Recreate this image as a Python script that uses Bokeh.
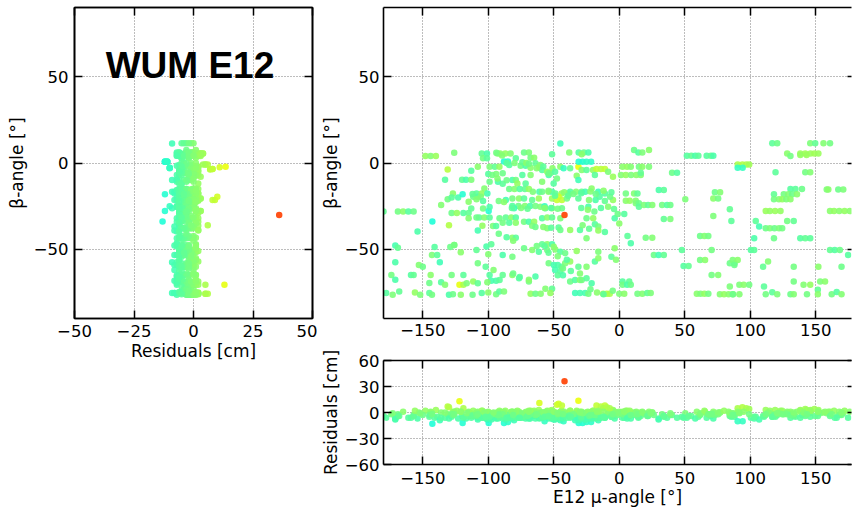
import numpy as np
from bokeh.plotting import figure
from bokeh.models import (ColumnDataSource, Range1d, FixedTicker, LinearAxis,
                          Label, LinearColorMapper, CustomLabelingPolicy)
from bokeh.layouts import row, column
from bokeh.transform import transform
from bokeh.embed import file_html
from bokeh.resources import INLINE

# ---------------- data: (mu-angle [deg], beta-angle [deg], residual [cm]) ----------------
sector_a = [
    (-180, -28, -4), (-169, -28, -2), (-165, -28, 1), (-161, -28, -6), (-157, -28, -3),
    (-148, 4, 2), (-144, 4, 0), (-140, 4, 3), (-126, 6, -1), (-131, -3.7, 7),
    (-133, -9.7, -6), (-120, -9.7, -4), (-117, -9.7, -7), (-113, -9.7, -1),
    (-127, -17.6, 1), (-131, -21, -2), (-128, -19.9, -5), (-123, -19.9, -7),
    (-119.6, -18.1, -12), (-136, -24.3, 0),
    (-128, -29, -3), (-124, -29, 2), (-119, -29, -6), (-115, -29, -4),
    (-142.7, -33.9, -13), (-130, -36, 6), (-154, -39.7, -7),
    (-171, -47.8, -8), (-169, -49, -4), (-141, -48.6, -6), (-129, -48.6, -3), (-126, -47.5, 1),
    (-143, -53.2, -1), (-139, -53.2, -5), (-137, -57.4, -9), (-171, -57.4, -7),
    (-153, -59, 0), (-150, -60, -3),
    (-174, -64.8, -2), (-159, -64.8, -6), (-157, -64.8, -4),
    (-144, -64.8, 1), (-128, -64.8, -2), (-119, -64.8, -5),
    (-171, -67.6, -7), (-145, -69.5, -3), (-136, -69, -6), (-133, -70.5, 0),
    (-122, -70.5, 13), (-119, -70.5, 5),
    (-178, -75.3, -6), (-173, -76.3, -1), (-168, -74.4, -4),
    (-156, -75, 2), (-152, -76.3, -1), (-145, -75.3, -5), (-143, -76.3, -2),
    (-130, -76.3, -7), (-127, -76, -3), (-121, -76.3, 1),
]

sector_b = [
    (-113, -4.5, -6), (-108, -2.2, 1),
    (-105, 5.5, -4), (-101, 5.5, -7), (-104, 2.7, -2), (-101, 2.7, -5), (-93, 5.5, 0),
    (-99, -2.2, -1), (-95, -2.2, -4), (-91.5, -2.2, 2),
    (-100, -6.4, -6), (-94, -6.4, -1), (-99, -10.8, -3), (-92.6, -10.8, -7),
    (-103, -14.7, 0), (-109, -17.6, -5), (-105, -17.6, 2),
    (-111.5, -19.5, -3), (-108, -19.5, -6), (-105.8, -19.5, -1), (-100.7, -17.6, -8),
    (-115, -22.4, 1), (-113, -26.4, -4), (-104, -26.4, -2), (-99.7, -27.8, -12), (-99, -25.5, -7),
    (-115, -32, 0), (-107, -31.6, -5), (-91.4, -32, -3),
    (-104.5, -36.3, 2), (-96.4, -36.5, -1), (-94, -36.5, -6), (-108, -39.1, -8),
    (-126, -47.4, -2), (-121, -51.7, 1), (-109, -50.3, -4), (-101.4, -48.4, -7),
    (-97.7, -47, -5), (-100, -52.8, 0), (-99, -64.8, -6),
    (-97.7, -68.2, -8), (-94, -68.2, -7), (-91.4, -67.7, -5),
    (-116.5, -69.6, -1), (-111.5, -68.6, 2), (-108, -69.6, -4), (-100.7, -69, 0),
    (-112, -76.3, -3), (-105, -75.3, -6), (-100, -75, 1), (-94, -75.9, -2),
]

sector_c = [
    (-91, 5.5, 1), (-87, 5.5, 2), (-83, 5.5, 0), (-72.7, 6.1, -3), (-69, 6.1, -1),
    (-79, 2.7, -5), (-67.7, 3, -2), (-65, 3, 1), (-88, 0.8, -12), (-85, 0.8, -11),
    (-84, -1.2, -6), (-75.3, -1.6, -2), (-71.5, -1.6, -7), (-67.7, -2.7, 1), (-64, -0.2, -4),
    (-61, -2.5, 11), (-89, -6, -3), (-74, -7, -6), (-67.7, -7, 0),
    (-81.6, -9.9, -7), (-79, -9.9, -2), (-77.8, -11.8, 2), (-71.5, -11.8, -5),
    (-84, -15.1, -3), (-80, -15.1, 0), (-76, -15.1, -6), (-72, -15.1, -4), (-69, -15.1, 2),
    (-66, -16.6, -1), (-61, -16.6, -7),
    (-86.6, -21.4, -8), (-81.6, -20.5, -2), (-76.5, -20.5, 1), (-72.7, -20.5, -5),
    (-66.5, -21.4, -4), (-61.4, -20.5, 3),
    (-81.6, -24.9, -6), (-77, -24.9, -3), (-72, -24.9, 0), (-68, -24.9, -7), (-64, -24.9, -2),
    (-80.3, -26.2, -9),
    (-86.6, -31.6, -4), (-82.5, -31.6, 1), (-79, -31.6, -6),
    (-72.7, -34, -2), (-69, -34, -7), (-65, -34, 2), (-66.5, -36.3, -1),
    (-81.6, -43.2, 1), (-79, -43.2, -5),
    (-72.7, -49.4, -3), (-66.5, -50.3, 0), (-61.4, -51.3, -6), (-89, -53.2, -7), (-81.6, -54.2, -2),
    (-89, -64.8, -4), (-81.6, -64.8, 1), (-76.5, -66.7, -6), (-69, -68.6, -2), (-64, -65.7, -7),
    (-91.6, -74.4, -5), (-88, -74.4, -1), (-67.7, -75.7, 2), (-64, -75.7, -3), (-60, -75.7, 0),
]

sector_d = [
    (-45, 11.3, -9),
    (-51.3, 5, -5), (-38.2, 6.1, 0), (-31, 6.1, -6), (-27, 6.1, -3), (-23.6, 6.1, -7), (-28.7, 5, 1),
    (-60.2, -1.2, -1), (-58.9, -4.1, -6), (-55, -5, 2), (-52.6, -6, -3),
    (-45, -2.2, 1), (-42.5, -3.1, -10), (-37.5, -3.1, -4), (-31.2, -2.2, 13.5),
    (-31, 0.7, -12), (-28, 0.7, -12), (-25, 0.7, -11), (-21.5, 0.7, -11),
    (-28.7, -4.1, 0), (-25, -4.1, -5), (-20, -4.1, 2),
    (-17.4, -3.5, 8), (-14, -3.5, 7), (-11, -3.5, 8),
    (-53.9, -7, -7), (-47.6, -8.9, -2), (-32.5, -7.4, 1), (-31.2, -9.9, -9),
    (-18.6, -7, -5), (-8.5, -5.1, -1), (-4.8, -8, 3),
    (-58.9, -10.8, 0), (-50.1, -11.8, -6),
    (-58.9, -16.6, -3), (-54, -16.6, 1), (-51.3, -16.6, -7),
    (-48.8, -17.6, -4), (-44, -17.6, 2), (-38.8, -17.6, -1),
    (-37.5, -16.6, -6), (-33, -16.6, 0), (-28.7, -16.6, -3), (-26, -16.6, -8),
    (-21.1, -14.7, 1), (-16, -16.6, -9), (-11, -17.6, -6),
    (-51.3, -20.5, 3), (-47.6, -21.4, 9), (-46.3, -19.5, 10), (-43.8, -21.4, 8), (-40, -20.5, -2),
    (-31.2, -20.5, -5), (-23.1, -21.4, 0), (-18.1, -21.4, -7), (-11, -22, -4),
    (-4.8, -21.4, 2), (-15, -19.5, -6), (-7, -19.5, -3),
    (-60.2, -25.3, -1), (-57, -25, -10), (-56.4, -26.2, -5), (-51.3, -26.2, 1),
    (-43.8, -26.2, -3), (-23.6, -25.3, -7), (-8.5, -25.3, 0), (-4, -26.6, -4),
    (-58.9, -32, -6), (-55, -31.6, 1), (-51.3, -31.6, -4), (-45, -32, -1), (-41.8, -30.1, 36),
    (-25, -32, -3), (-19.9, -32, 2), (-18.6, -35.5, -6), (-16, -36.8, -2), (-3.5, -32, -7),
    (-55, -37.8, 0), (-46.3, -37.4, -5), (-45, -38.8, -3), (-37.5, -38.8, 2),
    (-30, -38.8, -6), (-25, -43.6, -1),
    (-58.9, -47, -4), (-55, -47, 1), (-51.3, -47, -7),
    (-55, -50.3, -2), (-48.8, -50, 0), (-45, -51.3, -6), (-41.3, -52.2, -3),
    (-32.5, -50.9, 2), (-16, -51.3, -1), (-6, -54.2, -5), (-3.5, -49.4, 1),
    (-53.9, -58, -2), (-50, -59, -8), (-47, -59, -7), (-44, -60, -6), (-49, -62, -8),
    (-45, -62.5, -6), (-47, -65, -5), (-43, -65, -7),
    (-41.3, -58, -1), (-37.5, -57, 2), (-31.2, -60, -4), (-25, -60, 0), (-18.6, -57, -6), (-16, -55.1, 1),
    (-37.5, -68.6, -3), (-33.7, -67.7, -6), (-30, -67.7, 1), (-28.7, -67.7, -2),
    (-25, -66.7, -5), (-21.1, -69.6, -7),
    (-56.4, -72.8, 0), (-51.3, -72.8, -4), (-52.6, -75.3, 2),
    (-33.7, -75.3, -9), (-30, -75.3, -8), (-26, -75.3, -8), (-23.6, -75.7, -2),
    (-12.3, -75.7, 5), (-9.5, -75.7, 6), (-7.3, -75.7, 5),
]

sector_e = [
    (11.3, 7.5, -3), (14.6, 6.1, -6), (17.6, 6.1, -1), (22.7, 7.5, 1),
    (51.6, 4.2, -6), (55, 4.2, -4), (58, 4.2, -7), (60.4, 4.2, -5),
    (66.7, 4.2, -6), (70, 4.2, -4), (71.8, 4.2, -7),
    (2.5, -2.2, 1), (6, -2.2, 2), (8.8, -2.2, 0), (15, -2.2, -2), (17.6, -2.2, 1), (22.7, -2.2, -1),
    (1.3, -7, 0), (5, -7, 2), (9, -7, -1), (13, -7, 1), (16.4, -7, 0),
    (16.4, -5.6, -4), (40.3, -5.6, -3), (44.1, -5.6, -6),
    (5, -17.6, -2), (11.3, -17.6, 0), (13.9, -17.6, -4), (30.2, -15.6, -7), (34, -15.6, -5),
    (5, -21.8, 1), (8, -21.8, 2), (12.6, -21.8, 0), (12.6, -23.3, -1), (15, -23.3, -3), (15, -25.3, -5),
    (18.9, -24.3, -1), (22, -24.3, -4), (25.2, -24.3, 0), (32.7, -24.3, -2),
    (36.5, -24.3, -6), (39, -24.3, -3),
    (50.4, -21, -1), (73, -17, -3), (77, -17, 0), (71.8, -20.5, 1), (75.5, -20.5, -2),
    (84.4, -26.8, -4), (71.8, -30.7, -1), (85.6, -33.6, -5),
    (-1.2, -29.5, -3), (3.8, -29.5, -6), (34, -32.4, -4), (39, -32.4, -1), (0, -35, 1),
    (6.3, -42.2, -5), (20.2, -43.2, -2), (25.2, -43.2, 0), (8.8, -46.5, -7),
    (61.7, -42.2, -3), (65, -42.2, 0), (68, -42.2, -2),
    (47.8, -50.3, -5), (70.5, -50.3, -2), (26.4, -53.2, -3), (30, -53.2, -8), (34, -53.2, -4),
    (-2.5, -56, 0),
    (49.1, -59.6, -6), (52.9, -59.6, -4), (61.7, -56.1, -2), (65.5, -56.1, 1),
    (84.4, -58, -3), (88, -58, -5), (70.5, -64.8, -2), (75.5, -64.8, 0),
    (2.5, -68.6, -6), (7.6, -68.6, -4), (2.5, -70.5, -2), (6, -70.5, -7), (8.8, -70.5, -3),
    (84.4, -71.5, -1),
    (0, -75.7, -1), (3.8, -75.7, 1), (13.9, -75.7, -2), (17.6, -75.7, 0),
    (21.4, -75.3, -4), (24, -75.3, -1),
    (59.2, -75.7, 1), (62, -75.7, -1), (65, -75.7, 2), (68, -75.7, -2),
    (76.8, -76, 0), (80, -76, 2), (83.5, -76, 1), (86.9, -76, -1),
]

sector_f = [
    (116.8, 11.5, -5), (120.6, 11.5, -3), (145.8, 11.5, -1), (149.6, 11.5, -4),
    (155.9, 11.5, 0), (160.9, 11.5, -2),
    (128.2, 5.5, 1), (130.7, 4, -2),
    (138.2, 5.5, 3), (142, 5.5, 4), (146, 5.5, 3), (149, 5.5, 4), (152, 5.5, 3),
    (138.2, 4.6, 2), (143, 4.6, 3),
    (90.4, -0.8, 5), (94, -0.8, 6), (97, -0.8, 5), (99.2, -0.8, 4),
    (90.4, -2.7, -10), (94.2, -2.7, -10),
    (119.3, -5.4, -5), (142, -5.4, -2), (145.8, -5.4, 0),
    (130.7, -15.1, -6), (134.5, -15.1, -5), (139.5, -15.1, -3), (158.4, -15.3, -1),
    (159.6, -15.3, 1), (167.2, -15.3, -3), (171, -15.3, -1),
    (118.1, -18.1, -4), (125.6, -18.1, -2), (129, -18.1, 0), (132, -18.1, -3), (135.7, -18.1, 1),
    (118.1, -21, -2), (121.9, -21, 0), (124.4, -21, 2), (127.5, -21, -1), (130.7, -21, 1),
    (111.8, -27.8, 3), (115, -27.8, 2), (119, -27.8, 3), (123.1, -27.8, 2),
    (160.9, -27.8, 1), (164, -27.8, 2), (168, -27.8, 1), (172, -27.8, 2), (176, -27.8, 1),
    (104.2, -33.5, -5), (128.2, -33.5, -2), (133.2, -33.5, -4), (106.8, -36.8, -8),
    (111.8, -37.8, -3), (115, -37.8, -1), (118.5, -37.8, -3), (122, -37.8, -1), (124.4, -37.8, -2),
    (103, -43.6, -7), (118.1, -43.6, -3), (138.2, -43.6, -6), (142, -43.6, -4), (145.8, -43.6, -5),
    (100.5, -50.3, -6), (103, -50.3, -5), (160.9, -50.3, -4), (164.5, -50.3, -6), (168.4, -50.3, -3),
    (86.6, -56.1, -1), (90.4, -56.1, 1), (87.9, -59, -3), (113.6, -57, 0), (109.8, -60, -4),
    (133.2, -60, -2), (152, -60, 1), (169.7, -60, -3), (174.7, -53.2, -6),
    (91.7, -70.5, -1), (95, -70.5, 1), (99.2, -70.5, -2), (110.5, -71.5, -5), (133.2, -68.6, -2),
    (140.7, -70.5, 0), (145.8, -70.5, 2), (153.4, -68.6, -1), (157.1, -68.6, 1),
    (86.6, -76, -3), (91.7, -76, 0), (111.8, -76, -2), (116.8, -74.8, -5), (120.6, -76, -1),
    (130.7, -76, -3), (133.2, -76, 0), (143.3, -76, -2), (151.6, -73.4, -4), (151.6, -76, 1),
    (162.2, -76, -2), (166, -74.6, -6), (169.7, -76, 0),
]

# denser core of the top-right panel (mu -110 .. -5)
sector_g = [
    (-93.9, 6, -2), (-89.5, 4.4, 0), (-86, 0, -5), (-80, 0, -1), (-74, 0.5, -4), (-71, 0, 1),
    (-69, -0.5, -3), (-63, -3, 0), (-58, -2, -5), (-54, -6, -2), (-51, -3, 1), (-49, -5, -6),
    (-97, -7, -2), (-93, -9, 0), (-89, -12, -5), (-86, -10, -3),
    (-54, -16, -1), (-49, -19, -5), (-42, -17, 1), (-39, -19, -4),
    (-35, -18, -2), (-29, -17.5, -6), (-22, -16.5, 0), (-18, -18, -3), (-12, -16, 1), (-6, -17, -5),
    (-112, -18, -4), (-109, -21, 0), (-104, -22, -6),
    (-92, -22, -2), (-88, -22.5, 1), (-82, -26, -5), (-75, -26, -1), (-70, -26.5, -4),
    (-57, -26, 0), (-52, -26, -6), (-47, -26.5, -2),
    (-29, -26, -5), (-24, -27, 1), (-19, -28, -3), (-14, -26, -6),
    (-109, -31.6, -3), (-103, -31.6, 0), (-99, -31.6, -5),
    (-89, -34.6, -2), (-84, -34.6, -6), (-79, -34.6, 1),
    (-64, -37, -3), (-58, -37, 0), (-52, -37.5, -5),
    (-28, -36, -1), (-23, -38, -4), (-16, -39, 2), (-11, -40, -6),
    (-92, -41, -3), (-86, -43, -6), (-81, -45, 0),
    (-63, -48, -2), (-57, -48, -5), (-50, -48.5, 1),
    (-54, -52, -4), (-47, -54, -1), (-40, -56, -6),
    (-108, -58, -2), (-102, -60, -5), (-96, -62, 0),
    (-81, -64, -3), (-76, -66, -6), (-69, -67.5, 1),
    (-43, -61, -2), (-37, -62.5, -5), (-30, -64, 0),
    (-22, -73, -3), (-17, -75, 1), (-12, -76, -5), (-5, -74, -2),
]

title_text = "WUM E12"
res_ticks = [-50, -25, 0, 25, 50]
beta_ticks = [-50, 0, 50]
mu_ticks = [-150, -100, -50, 0, 50, 100, 150]
res2_ticks = [-60, -30, 0, 30, 60]

rows = sector_a + sector_b + sector_c + sector_d + sector_e + sector_f + sector_g
src = ColumnDataSource(data=dict(
    mu=[r[0] for r in rows],
    beta=[r[1] for r in rows],
    res=[r[2] for r in rows],
))

# jet colormap palette
xs = np.linspace(0, 1, 256)
rr = np.interp(xs, [0, 0.35, 0.66, 0.89, 1], [0, 0, 1, 1, 0.5])
gg = np.interp(xs, [0, 0.125, 0.375, 0.64, 0.91, 1], [0, 0, 1, 1, 0, 0])
bb = np.interp(xs, [0, 0.11, 0.34, 0.65, 1], [0.5, 1, 1, 0, 0])
jet = ["#%02x%02x%02x" % (int(round(a * 255)), int(round(b * 255)), int(round(c * 255)))
       for a, b, c in zip(rr, gg, bb)]
mapper = LinearColorMapper(palette=jet, low=-55, high=53)
col = transform("res", mapper)

FONT = "DejaVu Sans"


def minus(ticks):
    return {t: ("\u2212" + str(abs(t))) for t in ticks if t < 0}


def style_axis(ax, ticks, label, standoff=5, lab_standoff=3):
    ax.ticker = FixedTicker(ticks=ticks)
    ax.major_label_overrides = minus(ticks)
    ax.major_tick_in = 8
    ax.major_tick_out = 0
    ax.major_tick_line_width = 1.5
    ax.major_tick_line_color = "black"
    ax.minor_tick_line_color = None
    ax.axis_line_color = "black"
    ax.axis_line_width = 1.6
    ax.major_label_text_font = FONT
    ax.major_label_text_font_size = "16.5px"
    ax.major_label_text_color = "black"
    ax.major_label_standoff = standoff
    ax.axis_label = label
    ax.axis_label_text_font = FONT
    ax.axis_label_text_font_size = "17px"
    ax.axis_label_text_font_style = "normal"
    ax.axis_label_text_color = "black"
    ax.axis_label_standoff = lab_standoff


def ghost_axis(ticks, tick_len=8, line=True):
    # tick marks only: the labelling policy draws no labels at all
    return LinearAxis(ticker=FixedTicker(ticks=ticks), major_label_text_font_size="1px",
                      major_label_policy=CustomLabelingPolicy(code="return new Set()"),
                      major_label_standoff=0, axis_label=None,
                      major_tick_in=tick_len, major_tick_out=0,
                      major_tick_line_width=1.5, major_tick_line_color="black",
                      minor_tick_line_color=None,
                      axis_line_color="black" if line else None, axis_line_width=1.6)


def style_grid(p, xt, yt):
    p.xgrid.ticker = FixedTicker(ticks=xt)
    p.ygrid.ticker = FixedTicker(ticks=yt)
    for g in (p.xgrid, p.ygrid):
        g.grid_line_color = "#7a7a7a"
        g.grid_line_dash = "1 2"
        g.grid_line_width = 1


# ---------------- left panel: residual vs beta ----------------
p1 = figure(width=317, height=372, x_range=Range1d(-50, 50), y_range=Range1d(-90, 90),
            output_backend="svg", toolbar_location=None,
            min_border_left=74, min_border_right=4, min_border_top=7, min_border_bottom=54)
p1.scatter("res", "beta", source=src, size=6.5, fill_color=col, line_color=None, fill_alpha=0.9)
style_axis(p1.xaxis[0], res_ticks, "Residuals [cm]", standoff=6, lab_standoff=1)
style_axis(p1.yaxis[0], beta_ticks, "\u03b2-angle [\u00b0]", standoff=6, lab_standoff=4)
p1.add_layout(ghost_axis(res_ticks), "above")
p1.add_layout(ghost_axis(beta_ticks), "right")
style_grid(p1, res_ticks, beta_ticks)
p1.outline_line_color = "black"
p1.outline_line_width = 1.6
p1.add_layout(Label(x=-1.5, y=56.4, text=title_text, text_font="Liberation Sans",
                    text_font_size="37px", text_font_style="bold", text_color="black",
                    text_align="center", text_baseline="alphabetic"))

# ---------------- top right: mu vs beta ----------------
xr = Range1d(-180, 177.3)
p2 = figure(width=539, height=342, x_range=xr, y_range=Range1d(-90, 90),
            output_backend="svg", toolbar_location=None,
            min_border_left=66, min_border_right=0, min_border_top=7, min_border_bottom=24)
p2.scatter("mu", "beta", source=src, size=6.5, fill_color=col, line_color=None, fill_alpha=0.9)
style_axis(p2.xaxis[0], mu_ticks, None, standoff=5)
style_axis(p2.yaxis[0], beta_ticks, "\u03b2-angle [\u00b0]", standoff=4, lab_standoff=1)
p2.add_layout(ghost_axis(mu_ticks), "above")
p2.add_layout(ghost_axis(beta_ticks, tick_len=4, line=False), "right")
style_grid(p2, mu_ticks, beta_ticks)
p2.outline_line_color = None

# ---------------- bottom right: mu vs residual ----------------
p3 = figure(width=539, height=168, x_range=xr, y_range=Range1d(-60, 60),
            output_backend="svg", toolbar_location=None,
            min_border_left=66, min_border_right=0, min_border_top=18, min_border_bottom=46)
p3.scatter("mu", "res", source=src, size=6.5, fill_color=col, line_color=None, fill_alpha=0.9)
style_axis(p3.xaxis[0], mu_ticks, "E12 \u03bc-angle [\u00b0]", standoff=7, lab_standoff=0)
style_axis(p3.yaxis[0], res2_ticks, "Residuals [cm]", standoff=4, lab_standoff=1)
p3.add_layout(ghost_axis(mu_ticks), "above")
p3.add_layout(ghost_axis(res2_ticks, tick_len=4, line=False), "right")
style_grid(p3, mu_ticks, res2_ticks)
p3.outline_line_color = None

for p in (p1, p2, p3):
    p.background_fill_color = "white"
    p.border_fill_color = "white"

layout = row(p1, column(p2, p3, spacing=0), spacing=0)
open("out.html", "w").write(file_html(layout, INLINE))
